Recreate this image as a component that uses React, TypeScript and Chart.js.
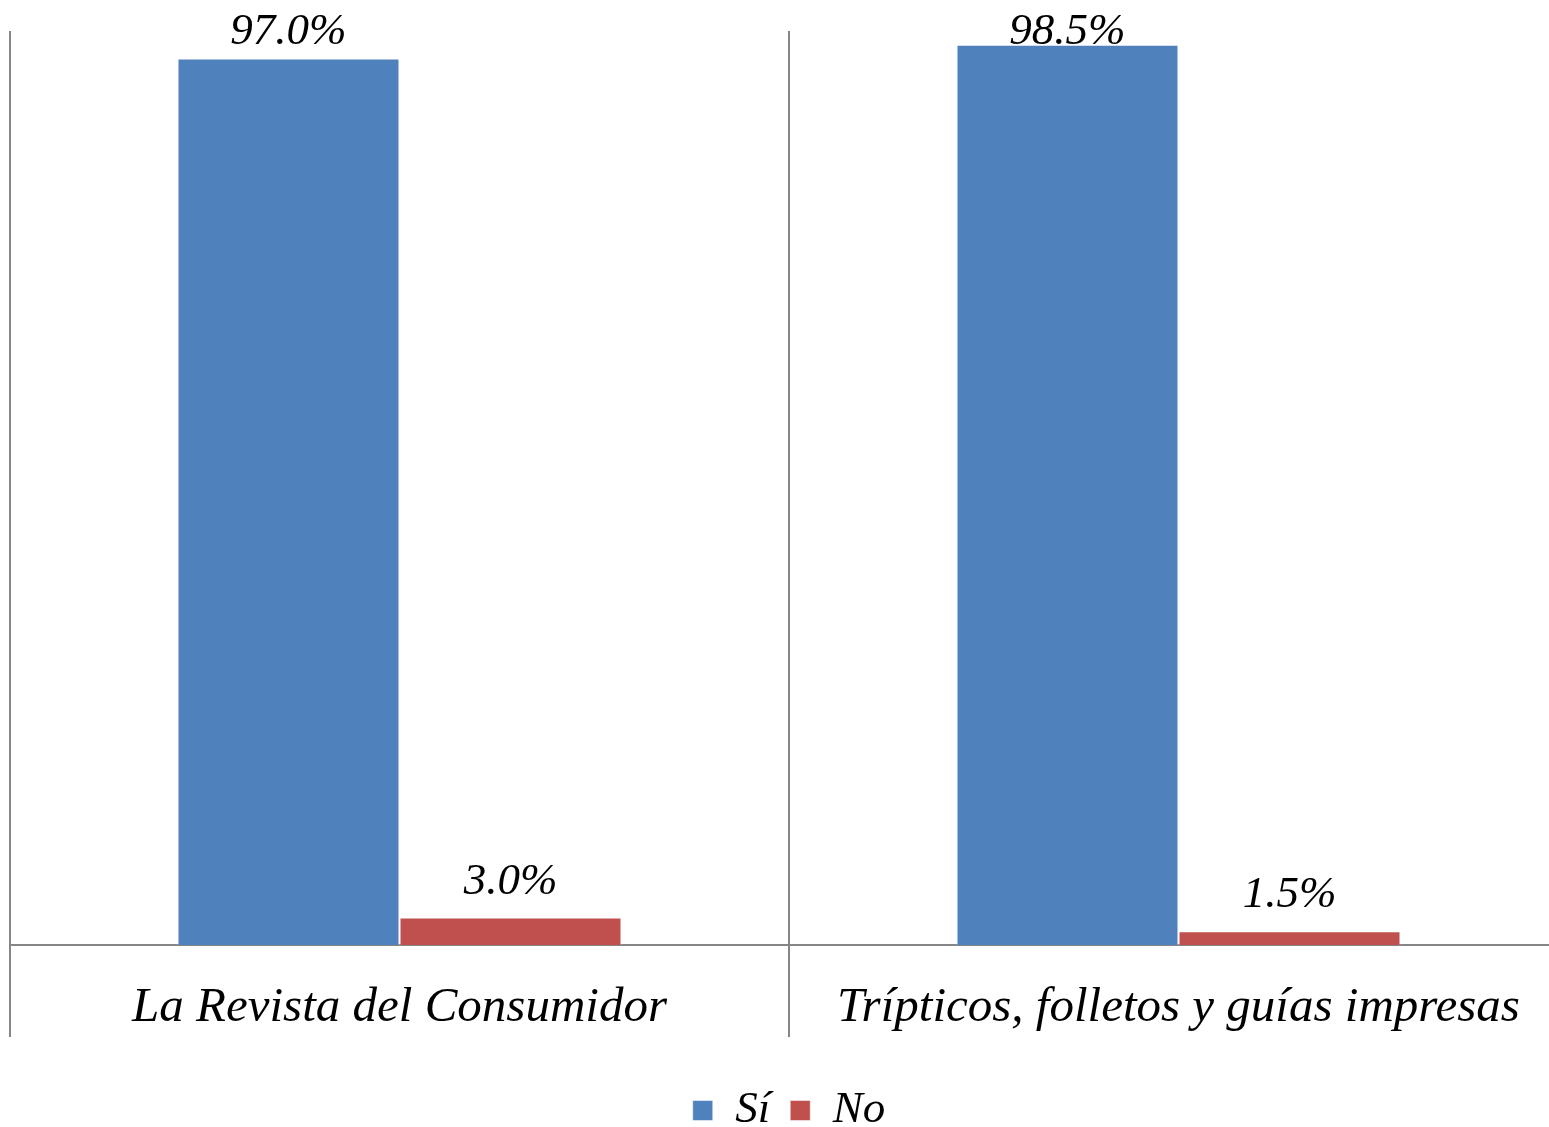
import React, { useEffect, useRef } from "react";
import { Chart, registerables } from "chart.js";

Chart.register(...registerables);

const categories = ["La Revista del Consumidor", "Trípticos, folletos y guías impresas"];
const seriesNames = ["Sí", "No"];
const siValues = [97.0, 98.5];
const noValues = [3.0, 1.5];
const colors = ["#4F81BD", "#C0504D"];

const FONT = "'Liberation Serif', 'DejaVu Serif', serif";

const dataLabelPlugin = {
  id: "dataLabels",
  afterDatasetsDraw(chart: any) {
    const ctx = chart.ctx;
    ctx.save();
    ctx.font = `italic 45px ${FONT}`;
    ctx.fillStyle = "#000";
    ctx.textAlign = "center";
    ctx.textBaseline = "alphabetic";
    chart.data.datasets.forEach((ds: any, di: number) => {
      const meta = chart.getDatasetMeta(di);
      meta.data.forEach((el: any, i: number) => {
        const v = ds.data[i];
        const y = Math.max(el.y - 24, 44);
        ctx.fillText(v.toFixed(1) + "%", el.x, y);
      });
    });
    ctx.restore();
  },
};

export default function App() {
  const ref = useRef<HTMLCanvasElement | null>(null);
  useEffect(() => {
    document.body.style.margin = "0";
    if (!ref.current) return;
    const chart = new Chart(ref.current, {
      type: "bar",
      data: {
        labels: categories,
        datasets: [
          {
            label: seriesNames[0],
            data: siValues,
            backgroundColor: colors[0],
            borderColor: "rgba(255,255,255,0.5)",
            borderWidth: 1,
            categoryPercentage: 0.57,
            barPercentage: 1,
          },
          {
            label: seriesNames[1],
            data: noValues,
            backgroundColor: colors[1],
            borderColor: "rgba(255,255,255,0.5)",
            borderWidth: 1,
            categoryPercentage: 0.57,
            barPercentage: 1,
          },
        ],
      },
      options: {
        animation: false,
        responsive: true,
        maintainAspectRatio: false,
        layout: { padding: { left: 10, right: 22, top: 31, bottom: 0 } },
        plugins: {
          legend: {
            position: "bottom",
            labels: {
              font: { family: FONT, size: 45, style: "italic" },
              color: "#000",
              boxWidth: 20,
              boxHeight: 20,
              padding: 20,
            },
          },
          tooltip: { enabled: false },
        },
        scales: {
          x: {
            grid: {
              display: true,
              offset: true,
              color: "#868686",
              lineWidth: 2,
              tickLength: 92,
              drawOnChartArea: true,
            },
            border: { display: true, color: "#868686", width: 2 },
            ticks: {
              padding: -58,
              color: "#000",
              font: { family: FONT, size: 49, style: "italic" },
              maxRotation: 0,
              minRotation: 0,
              autoSkip: false,
            },
            afterFit(scale: any) {
              scale.height = 123;
            },
          },
          y: {
            display: false,
            min: 0,
            max: 100,
          },
        },
      },
      plugins: [dataLabelPlugin],
    });
    return () => chart.destroy();
  }, []);
  return (
    <div style={{ width: 1549, height: 1127, overflow: "hidden", position: "relative" }}>
      <div style={{ width: 1590, height: 1143, position: "absolute", left: 0, top: 0 }}>
        <canvas ref={ref} />
      </div>
    </div>
  );
}
